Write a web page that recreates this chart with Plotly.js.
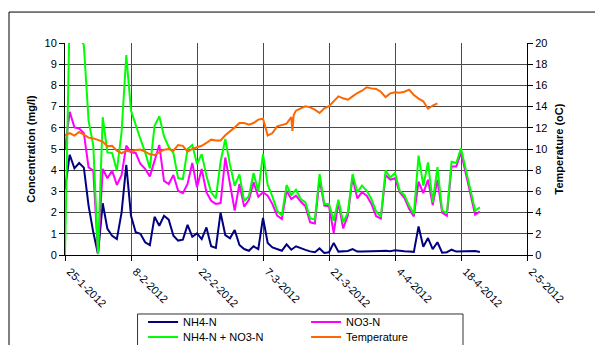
<!DOCTYPE html>
<html>
<head>
<meta charset="utf-8">
<script src="https://cdn.plot.ly/plotly-3.0.1.min.js"></script>
<style>html,body{margin:0;padding:0;background:#fff;}#chart{width:595px;height:345px;}</style>
</head>
<body>
<div id="chart"></div>
<script>
// Sampling dates (daily)
const dates = [
"2012-01-25","2012-01-26","2012-01-27","2012-01-28","2012-01-29","2012-01-30","2012-01-31",
"2012-02-01","2012-02-02","2012-02-03","2012-02-04","2012-02-05","2012-02-06","2012-02-07",
"2012-02-08","2012-02-09","2012-02-10","2012-02-11","2012-02-12","2012-02-13","2012-02-14",
"2012-02-15","2012-02-16","2012-02-17","2012-02-18","2012-02-19","2012-02-20","2012-02-21",
"2012-02-22","2012-02-23","2012-02-24","2012-02-25","2012-02-26","2012-02-27","2012-02-28",
"2012-02-29","2012-03-01","2012-03-02","2012-03-03","2012-03-04","2012-03-05","2012-03-06",
"2012-03-07","2012-03-08","2012-03-09","2012-03-10","2012-03-11","2012-03-12","2012-03-13",
"2012-03-14","2012-03-15","2012-03-16","2012-03-17","2012-03-18","2012-03-19","2012-03-20",
"2012-03-21","2012-03-22","2012-03-23","2012-03-24","2012-03-25","2012-03-26","2012-03-27",
"2012-03-28","2012-03-29","2012-03-30","2012-03-31","2012-04-01","2012-04-02","2012-04-03",
"2012-04-04","2012-04-05","2012-04-06","2012-04-07","2012-04-08","2012-04-09","2012-04-10",
"2012-04-11","2012-04-12","2012-04-13","2012-04-14","2012-04-15","2012-04-16","2012-04-17",
"2012-04-18","2012-04-19","2012-04-20","2012-04-21","2012-04-22"
];

// NH4-N (mg/l)
const nh4 = [
3.1,4.73,4.09,4.34,4.12,2.33,1.07,
0.05,2.44,1.23,0.91,0.75,2.0,4.25,
1.85,1.07,1.0,0.6,0.47,1.8,1.38,
1.85,1.67,0.91,0.68,0.72,1.42,0.86,
1.02,0.75,1.3,0.41,0.33,2.0,0.94,
0.79,1.18,0.47,0.28,0.2,0.41,0.28,
1.75,0.57,0.36,0.28,0.2,0.5,0.25,
0.41,0.31,0.24,0.17,0.13,0.31,0.1,
0.13,0.57,0.16,0.16,0.19,0.28,0.16,
0.16,0.16,0.19,0.19,0.19,0.2,0.18,
0.22,0.19,0.18,0.17,0.15,1.35,0.39,
0.8,0.28,0.6,0.11,0.13,0.25,0.16,
0.16,null,null,0.19,0.14
];

// NO3-N (mg/l)
const no3 = [
5.0,6.75,6.02,5.97,5.75,4.13,3.98,
0.05,4.06,3.62,3.98,3.3,3.77,5.16,
4.84,4.81,4.29,4.06,3.71,4.45,5.19,
3.5,3.35,3.77,3.03,2.92,3.35,4.34,
3.19,4.06,2.96,2.56,2.41,2.45,4.6,
3.35,2.09,3.35,2.28,2.59,3.43,2.75,
2.96,2.8,2.4,1.86,1.7,3.03,2.64,
2.8,2.52,2.3,1.54,1.49,3.58,2.33,
2.3,1.04,2.48,1.26,1.86,3.66,2.67,
2.96,2.8,2.41,1.83,1.72,3.77,3.55,
3.62,2.96,2.7,2.18,1.82,3.46,2.92,
3.55,2.36,3.55,2.0,1.85,4.18,4.18,
4.84,null,null,1.9,2.05
];

// NH4-N + NO3-N (mg/l)
const totalN = [
0,11.5,10.1,10.3,9.9,6.34,5.16,
0.05,6.5,4.84,4.81,3.98,5.79,9.43,
6.81,6.1,5.47,4.84,4.09,6.1,6.54,
5.6,5.1,4.8,3.62,3.58,5.0,5.19,
4.29,4.76,3.74,2.96,2.67,4.4,5.47,
4.25,3.27,3.8,2.55,2.77,3.87,2.99,
4.76,3.3,2.75,2.09,1.86,3.3,2.83,
3.08,2.64,2.48,1.73,1.67,3.82,2.41,
2.41,1.62,2.61,1.54,2.0,3.82,2.96,
3.27,3.03,2.64,2.05,1.8,3.98,3.66,
3.87,3.03,2.83,2.33,1.93,4.69,3.27,
4.37,2.48,4.14,2.09,1.98,4.4,4.34,
5.03,null,null,2.1,2.25
];

// Temperature (oC)
const tempDates = [
"2012-01-25","2012-01-26","2012-01-27","2012-01-28","2012-01-29","2012-01-30","2012-01-31",
"2012-02-01","2012-02-02","2012-02-03","2012-02-04","2012-02-05","2012-02-06","2012-02-07",
"2012-02-08","2012-02-09","2012-02-10","2012-02-11","2012-02-12","2012-02-13","2012-02-14",
"2012-02-15","2012-02-16","2012-02-17","2012-02-18","2012-02-19","2012-02-20","2012-02-21",
"2012-02-22","2012-02-23","2012-02-24","2012-02-25","2012-02-26","2012-02-27","2012-02-28",
"2012-02-29","2012-03-01","2012-03-02","2012-03-03","2012-03-04","2012-03-05","2012-03-06",
"2012-03-07","2012-03-08","2012-03-09","2012-03-10","2012-03-11","2012-03-12","2012-03-13",
"2012-03-13 06:00","2012-03-13 12:00",
"2012-03-14","2012-03-15","2012-03-16","2012-03-17","2012-03-18","2012-03-19","2012-03-20",
"2012-03-21","2012-03-22","2012-03-23","2012-03-24","2012-03-25","2012-03-26","2012-03-27",
"2012-03-28","2012-03-29","2012-03-30","2012-03-31","2012-04-01","2012-04-02","2012-04-03",
"2012-04-04","2012-04-05","2012-04-06","2012-04-07","2012-04-08","2012-04-09","2012-04-10",
"2012-04-11","2012-04-12","2012-04-13"
];
const temperature = [
11.3,11.5,11.26,11.6,11.35,11.07,11.0,
10.88,10.7,10.25,10.3,9.84,9.6,9.84,
9.75,9.9,9.94,9.75,9.5,9.43,9.69,
9.94,10.0,9.84,10.38,10.3,9.75,10.0,
10.16,10.3,10.57,10.88,10.8,10.8,11.3,
11.64,12.04,12.45,12.45,12.3,12.45,12.77,
12.86,11.26,11.5,12.14,12.3,12.39,13.0,
11.7,13.2,
13.62,13.84,14.03,13.93,13.71,13.4,13.84,
14.03,14.53,14.97,14.78,14.65,14.97,15.28,
15.5,15.82,15.72,15.66,15.4,14.9,15.25,
15.35,15.3,15.4,15.6,15.1,14.75,14.5,
13.8,14.1,14.3
];

// Axis ticks
const xTickVals = ["2012-01-25","2012-02-08","2012-02-22","2012-03-07","2012-03-21","2012-04-04","2012-04-18","2012-05-02"];
const xTickText = ["25-1-2012","8-2-2012","22-2-2012","7-3-2012","21-3-2012","4-4-2012","18-4-2012","2-5-2012"];

const FONT = "Liberation Sans, Arial, sans-serif";
const GRID = "#4a4a4a";

const traces = [
  {x: dates, y: nh4, name: "NH4-N", type: "scatter", mode: "lines", connectgaps: true,
   line: {color: "#000080", width: 2}, legend: "legend"},
  {x: dates, y: no3, name: "NO3-N", type: "scatter", mode: "lines", connectgaps: true,
   line: {color: "#FF00FF", width: 2}, legend: "legend"},
  {x: dates, y: totalN, name: "NH4-N + NO3-N", type: "scatter", mode: "lines", connectgaps: true,
   line: {color: "#00FF00", width: 2}, legend: "legend2"},
  {x: tempDates, y: temperature, name: "Temperature", type: "scatter", mode: "lines",
   line: {color: "#FF6600", width: 2}, yaxis: "y2", legend: "legend2"}
];

const legendCommon = {
  orientation: "h", xanchor: "left", yanchor: "middle",
  bgcolor: "rgba(0,0,0,0)", borderwidth: 0,
  font: {family: FONT, size: 11, color: "#000"},
  entrywidth: 118, entrywidthmode: "pixels", itemwidth: 30, traceorder: "normal"
};

const layout = {
  width: 595, height: 345,
  margin: {l: 65, r: 68, t: 43, b: 90, pad: 0, autoexpand: false},
  paper_bgcolor: "#fff", plot_bgcolor: "#fff",
  font: {family: FONT, size: 11, color: "#000"},
  showlegend: true,
  xaxis: {
    type: "date", range: ["2012-01-25", "2012-05-02"], automargin: false,
    tickmode: "array", tickvals: xTickVals, ticktext: xTickText,
    tickangle: 45, ticks: "outside", ticklen: 5, tickcolor: "#000",
    ticklabelshift: 5,
    showgrid: true, gridcolor: GRID, gridwidth: 1,
    showline: true, linecolor: "#000", linewidth: 1, zeroline: false,
    tickfont: {family: FONT, size: 11, color: "#000"}
  },
  yaxis: {
    range: [0, 10], dtick: 1, tick0: 0, automargin: false,
    ticks: "outside", ticklen: 5, tickcolor: "#000",
    showgrid: true, gridcolor: GRID, gridwidth: 1,
    showline: true, linecolor: "#000", linewidth: 1, zeroline: false,
    tickfont: {family: FONT, size: 11, color: "#000"},
    title: {text: "Concentration (mg/l)", font: {family: FONT, size: 11, color: "#000", weight: "bold"}, standoff: 6}
  },
  yaxis2: {
    overlaying: "y", side: "right", range: [0, 20], dtick: 2, tick0: 0, automargin: false,
    ticks: "outside", ticklen: 5, tickcolor: "#000",
    showgrid: false, showline: true, linecolor: "#000", linewidth: 1, zeroline: false,
    tickfont: {family: FONT, size: 11, color: "#000"},
    title: {text: "Temperature (oC)", font: {family: FONT, size: 11, color: "#000", weight: "bold"}, standoff: 8}
  },
  legend: Object.assign({}, legendCommon, {x: 0.169, y: -0.316}),
  legend2: Object.assign({}, legendCommon, {x: 0.169, y: -0.387}),
  shapes: [
    {type: "rect", xref: "paper", yref: "paper", x0: -0.1212, x1: 1.5, y0: -1, y1: 1.146,
     line: {color: "#000", width: 1}, fillcolor: "rgba(0,0,0,0)", layer: "below"},
    {type: "rect", xref: "paper", yref: "paper", x0: 0.157, x1: 0.8615, y0: -0.7, y1: -0.2783,
     line: {color: "#333", width: 1}, fillcolor: "rgba(0,0,0,0)", layer: "above"}
  ]
};

Plotly.newPlot("chart", traces, layout, {displayModeBar: false, staticPlot: true});
</script>
</body>
</html>
